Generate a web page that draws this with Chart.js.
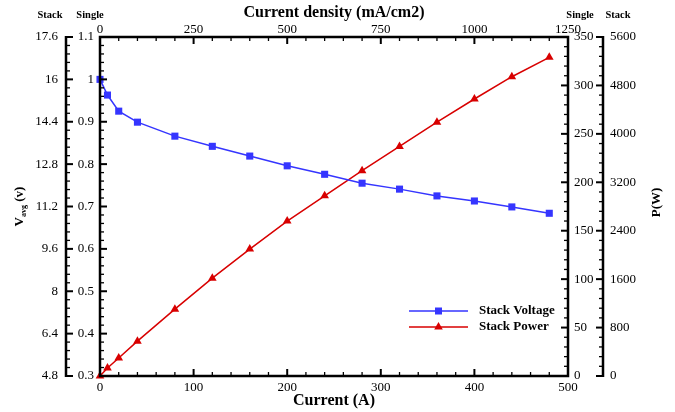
<!DOCTYPE html>
<html>
<head>
<meta charset="utf-8">
<script src="https://cdn.jsdelivr.net/npm/chart.js@4/dist/chart.umd.min.js"></script>
<style>
html,body{margin:0;padding:0;background:#fff;}
#wrap{width:675px;height:412px;position:relative;}
</style>
</head>
<body>
<div id="wrap"><canvas id="c" width="675" height="412"></canvas></div>
<script>
// ---- data ----
const currentA = [0, 8, 20, 40, 80, 120, 160, 200, 240, 280, 320, 360, 400, 440, 480];
const stackVoltage = [1.0, 0.963, 0.925, 0.899, 0.866, 0.842, 0.819, 0.796, 0.776, 0.755, 0.741, 0.725, 0.713, 0.699, 0.684];
const stackPower = [0, 8.3, 18.6, 36, 69, 101, 131, 160, 186, 212, 237, 262, 286, 309, 329];

const xTicks = [0, 100, 200, 300, 400, 500];
const xTopTicks = [0, 250, 500, 750, 1000, 1250];
const vSingleTicks = [0.3, 0.4, 0.5, 0.6, 0.7, 0.8, 0.9, 1.0, 1.1];
const vStackTicks = [4.8, 6.4, 8, 9.6, 11.2, 12.8, 14.4, 16, 17.6];
const pSingleTicks = [0, 50, 100, 150, 200, 250, 300, 350];
const pStackTicks = [0, 800, 1600, 2400, 3200, 4000, 4800, 5600];

const seriesNames = ['Stack Voltage', 'Stack Power'];
const BLUE = '#3535ff';
const RED = '#d80000';
const SERIF = "'Liberation Serif', 'Times New Roman', serif";

function fixTicks(arr){
  return function(scale){ scale.ticks = arr.map(v => ({value: v})); };
}
function fmt(v){ return String(Number(Number(v).toFixed(3))); }
function sized(dim, val){
  return function(scale){ scale[dim] = val; };
}
const tickFont = {family: SERIF, size: 13};

function axisBase(extra){
  return Object.assign({
    type: 'linear',
    grid: {display: false, drawTicks: false},
    border: {display: false},
  }, extra);
}

const frame = {
  id: 'frame',
  afterDatasetsDraw(chart){
    const ctx = chart.ctx;
    const a = chart.chartArea;
    const s = chart.scales;
    ctx.save();
    ctx.strokeStyle = '#000';
    ctx.lineCap = 'butt';
    // main frame
    ctx.lineWidth = 2.5;
    ctx.strokeRect(a.left, a.top, a.right - a.left, a.bottom - a.top);
    // outer axis lines
    const xo = s.vStack.right, xr = s.pStack.left;
    ctx.beginPath();
    ctx.moveTo(xo, a.top - 1); ctx.lineTo(xo, a.bottom + 1);
    ctx.moveTo(xr, a.top - 1); ctx.lineTo(xr, a.bottom + 1);
    ctx.stroke();

    function vTicks(scale, x0, dir, min, max, major, minor){
      const n = Math.round((max - min) / minor);
      for (let i = 0; i <= n; i++){
        const v = min + i * minor;
        const isMajor = Math.abs((v - min) / major - Math.round((v - min) / major)) < 1e-6;
        const y = scale.getPixelForValue(v);
        ctx.lineWidth = isMajor ? 2 : 1.3;
        ctx.beginPath();
        ctx.moveTo(x0, y); ctx.lineTo(x0 + dir * (isMajor ? 7 : 4), y);
        ctx.stroke();
      }
    }
    function hTicks(scale, y0, dir, min, max, major, minor){
      const n = Math.round((max - min) / minor);
      for (let i = 0; i <= n; i++){
        const v = min + i * minor;
        const isMajor = Math.abs((v - min) / major - Math.round((v - min) / major)) < 1e-6;
        const x = scale.getPixelForValue(v);
        ctx.lineWidth = isMajor ? 2 : 1.3;
        ctx.beginPath();
        ctx.moveTo(x, y0); ctx.lineTo(x, y0 + dir * (isMajor ? 7 : 4));
        ctx.stroke();
      }
    }
    vTicks(s.vSingle, a.left, 1, 0.3, 1.1, 0.1, 0.02);
    vTicks(s.vStack, xo, 1, 4.8, 17.6, 1.6, 0.32);
    vTicks(s.pSingle, a.right, -1, 0, 350, 50, 10);
    vTicks(s.pStack, xr, -1, 0, 5600, 800, 160);
    hTicks(s.x, a.bottom, -1, 0, 500, 100, 20);
    hTicks(s.xTop, a.top, 1, 0, 1250, 250, 50);

    // titles
    ctx.fillStyle = '#000';
    const cx = (a.left + a.right) / 2;
    ctx.textAlign = 'center';
    ctx.textBaseline = 'middle';
    ctx.font = 'bold 16px ' + SERIF;
    ctx.fillText('Current density (mA/cm2)', cx, 13);
    ctx.fillText('Current (A)', cx, 401);

    ctx.font = 'bold 10.5px ' + SERIF;
    ctx.fillText('Stack', 50, 15);
    ctx.fillText('Single', 90, 15);
    ctx.fillText('Single', 580, 15);
    ctx.fillText('Stack', 618, 15);

    // left title V_avg (v)
    const cy = (a.top + a.bottom) / 2;
    ctx.save();
    ctx.translate(18, cy);
    ctx.rotate(-Math.PI / 2);
    ctx.textAlign = 'left';
    ctx.textBaseline = 'alphabetic';
    const fBig = 'bold 13px ' + SERIF, fSmall = 'bold 8px ' + SERIF;
    ctx.font = fBig; const wV = ctx.measureText('V').width;
    ctx.font = fSmall; const wS = ctx.measureText('avg').width;
    ctx.font = fBig; const wP = ctx.measureText(' (v)').width;
    let x0 = -(wV + wS + wP) / 2;
    ctx.font = fBig; ctx.fillText('V', x0, 5); x0 += wV;
    ctx.font = fSmall; ctx.fillText('avg', x0, 8); x0 += wS;
    ctx.font = fBig; ctx.fillText(' (v)', x0, 5);
    ctx.restore();

    // right title
    ctx.save();
    ctx.translate(657, cy - 4);
    ctx.rotate(-Math.PI / 2);
    ctx.textAlign = 'center';
    ctx.textBaseline = 'middle';
    ctx.font = 'bold 13px ' + SERIF;
    ctx.fillText('P(W)', 0, 0);
    ctx.restore();

    // legend
    const ds = chart.data.datasets;
    const lx0 = a.right - 159, lx1 = a.right - 100, ly = [a.bottom - 65, a.bottom - 49];
    ds.forEach((d, i) => {
      ctx.strokeStyle = d.borderColor;
      ctx.lineWidth = 1.5;
      ctx.beginPath(); ctx.moveTo(lx0, ly[i]); ctx.lineTo(lx1, ly[i]); ctx.stroke();
      ctx.fillStyle = d.pointBackgroundColor;
      const mx = (lx0 + lx1) / 2;
      ctx.beginPath();
      if (d.pointStyle === 'rect'){
        ctx.rect(mx - 3.5, ly[i] - 3.5, 7, 7);
      } else {
        ctx.moveTo(mx, ly[i] - 5);
        ctx.lineTo(mx + 4.3, ly[i] + 2.5);
        ctx.lineTo(mx - 4.3, ly[i] + 2.5);
        ctx.closePath();
      }
      ctx.fill();
      ctx.fillStyle = '#000';
      ctx.font = 'bold 13px ' + SERIF;
      ctx.textAlign = 'left';
      ctx.textBaseline = 'middle';
      ctx.fillText(d.label, lx1 + 11, ly[i]);
    });
    ctx.restore();
  }
};

new Chart(document.getElementById('c'), {
  type: 'line',
  data: {
    datasets: [
      {
        label: seriesNames[0],
        data: currentA.map((x, i) => ({x: x, y: stackVoltage[i]})),
        yAxisID: 'vSingle', xAxisID: 'x',
        borderColor: BLUE, backgroundColor: BLUE,
        pointBackgroundColor: BLUE, pointBorderColor: BLUE,
        pointStyle: 'rect', pointRadius: 5, pointBorderWidth: 0,
        borderWidth: 1.5, tension: 0, clip: 10
      },
      {
        label: seriesNames[1],
        data: currentA.map((x, i) => ({x: x, y: stackPower[i]})),
        yAxisID: 'pSingle', xAxisID: 'x',
        borderColor: RED, backgroundColor: RED,
        pointBackgroundColor: RED, pointBorderColor: RED,
        pointStyle: 'triangle', pointRadius: 5, pointBorderWidth: 0,
        borderWidth: 1.5, tension: 0, clip: 10
      }
    ]
  },
  options: {
    responsive: false,
    animation: false,
    layout: {padding: 0},
    plugins: {legend: {display: false}, tooltip: {enabled: false}},
    scales: {
      x: axisBase({position: 'bottom', min: 0, max: 500,
        afterBuildTicks: fixTicks(xTicks), afterFit: sized('height', 36),
        ticks: {font: tickFont, color: '#000', padding: 4, callback: fmt, maxRotation: 0, autoSkip: false}}),
      xTop: axisBase({position: 'top', min: 0, max: 1250,
        afterBuildTicks: fixTicks(xTopTicks), afterFit: sized('height', 37),
        ticks: {font: tickFont, color: '#000', padding: 0, callback: fmt, maxRotation: 0, autoSkip: false}}),
      vSingle: axisBase({position: 'left', weight: 0, min: 0.3, max: 1.1,
        afterBuildTicks: fixTicks(vSingleTicks), afterFit: sized('width', 34),
        ticks: {font: tickFont, color: '#000', padding: 6, callback: fmt, autoSkip: false}}),
      vStack: axisBase({position: 'left', weight: 1, min: 4.8, max: 17.6,
        afterBuildTicks: fixTicks(vStackTicks), afterFit: sized('width', 66),
        ticks: {font: tickFont, color: '#000', padding: 8, callback: fmt, autoSkip: false}}),
      pSingle: axisBase({position: 'right', weight: 0, min: 0, max: 350,
        afterBuildTicks: fixTicks(pSingleTicks), afterFit: sized('width', 35),
        ticks: {font: tickFont, color: '#000', padding: 6, callback: fmt, autoSkip: false}}),
      pStack: axisBase({position: 'right', weight: 1, min: 0, max: 5600,
        afterBuildTicks: fixTicks(pStackTicks), afterFit: sized('width', 72),
        ticks: {font: tickFont, color: '#000', padding: 7, callback: fmt, autoSkip: false}})
    }
  },
  plugins: [frame]
});
</script>
</body>
</html>
